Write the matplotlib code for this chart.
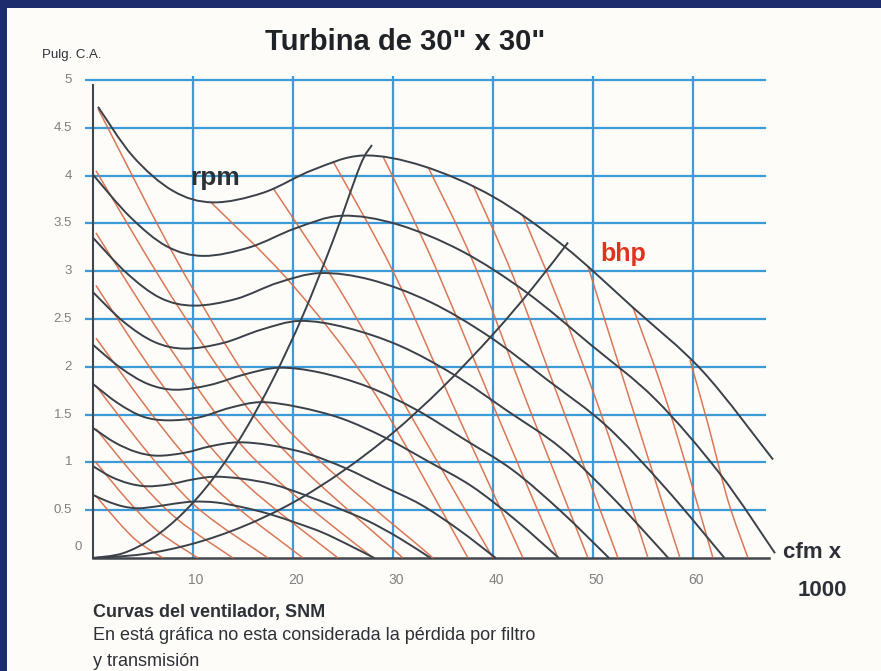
import matplotlib
matplotlib.use("Agg")
import matplotlib.pyplot as plt
from matplotlib.patches import Rectangle, PathPatch
from matplotlib.path import Path

# ---- datos (cfm x 1000, pulg. C.A.) ----
x_ticks = [10, 20, 30, 40, 50, 60]
y_ticks = [0.5, 1, 1.5, 2, 2.5, 3, 3.5, 4, 4.5, 5]
y_tick_labels = ["0.5", "1", "1.5", "2", "2.5", "3", "3.5", "4", "4.5", "5"]

# curvas rpm (negras)
rpm_1_x = [0.5, 4, 8, 12, 17, 22, 27, 33, 40, 47, 54, 61, 68]
rpm_1_y = [4.72, 4.2, 3.84, 3.72, 3.82, 4.06, 4.21, 4.1, 3.78, 3.27, 2.62, 1.95, 1.03]
rpm_2_x = [0, 3.69, 7.38, 11.06, 15.67, 20.28, 24.89, 30.43, 36.88, 43.33, 49.79, 56.24, 62.7, 68.2]
rpm_2_y = [4.01, 3.57, 3.26, 3.16, 3.25, 3.45, 3.58, 3.49, 3.21, 2.78, 2.23, 1.66, 0.88, 0.05]
rpm_3_x = [0, 3.37, 6.74, 10.1, 14.31, 18.52, 22.73, 27.79, 33.68, 39.57, 45.47, 51.36, 57.26, 63.15]
rpm_3_y = [3.35, 2.98, 2.72, 2.64, 2.71, 2.88, 2.98, 2.91, 2.68, 2.32, 1.86, 1.38, 0.73, 0]
rpm_4_x = [0, 3.07, 6.14, 9.2, 13.04, 16.87, 20.71, 25.31, 30.68, 36.05, 41.42, 46.79, 52.16, 57.53]
rpm_4_y = [2.78, 2.47, 2.26, 2.19, 2.25, 2.39, 2.48, 2.41, 2.22, 1.92, 1.54, 1.15, 0.61, 0]
rpm_5_x = [0, 2.75, 5.5, 8.26, 11.7, 15.14, 18.58, 22.7, 27.52, 32.34, 37.15, 41.97, 46.78, 51.6]
rpm_5_y = [2.23, 1.99, 1.82, 1.76, 1.81, 1.92, 1.99, 1.94, 1.79, 1.55, 1.24, 0.92, 0.49, 0]
rpm_6_x = [0, 2.48, 4.97, 7.45, 10.56, 13.66, 16.77, 20.49, 24.84, 29.19, 33.53, 37.88, 42.23, 46.58]
rpm_6_y = [1.82, 1.62, 1.48, 1.44, 1.47, 1.57, 1.63, 1.58, 1.46, 1.26, 1.01, 0.75, 0.4, 0]
rpm_7_x = [0, 2.15, 4.3, 6.44, 9.13, 11.81, 14.5, 17.72, 21.48, 25.24, 29.0, 32.76, 36.52, 40.28]
rpm_7_y = [1.36, 1.21, 1.11, 1.07, 1.1, 1.17, 1.21, 1.18, 1.09, 0.94, 0.75, 0.56, 0.3, 0]
rpm_8_x = [0, 1.8, 3.6, 5.4, 7.65, 9.9, 12.15, 14.85, 18.0, 21.15, 24.3, 27.45, 30.6, 33.75]
rpm_8_y = [0.96, 0.85, 0.78, 0.75, 0.77, 0.82, 0.85, 0.83, 0.77, 0.66, 0.53, 0.39, 0.21, 0]
rpm_9_x = [0, 1.5, 3.0, 4.5, 6.38, 8.25, 10.13, 12.38, 15.0, 17.63, 20.25, 22.88, 25.5, 28.13]
rpm_9_y = [0.66, 0.59, 0.54, 0.52, 0.54, 0.57, 0.59, 0.58, 0.53, 0.46, 0.37, 0.27, 0.14, 0]

# curvas del sistema (negras, desde el origen)
sys_a_x = [0, 3, 6, 9, 12, 15, 18, 21, 24, 26.7, 27.9]
sys_a_y = [0, 0.05, 0.21, 0.47, 0.83, 1.3, 1.87, 2.54, 3.32, 4.1, 4.32]
sys_b_x = [0, 5, 10, 15, 20, 25, 30, 35, 40, 44, 47.5]
sys_b_y = [0, 0.04, 0.15, 0.33, 0.58, 0.91, 1.31, 1.79, 2.34, 2.83, 3.3]

# curvas bhp (rojas)
bhp_1_x = [0.3, 2.5, 4.5, 7];        bhp_1_y = [0.65, 0.38, 0.17, 0]
bhp_2_x = [0.3, 3.5, 6.5, 10.5];     bhp_2_y = [1.0, 0.6, 0.28, 0]
bhp_3_x = [0.3, 4.5, 8.5, 14];       bhp_3_y = [1.35, 0.82, 0.4, 0]
bhp_4_x = [0.3, 5.5, 10.5, 17.5];    bhp_4_y = [1.8, 1.1, 0.52, 0]
bhp_5_x = [0.3, 6.5, 12.5, 21];      bhp_5_y = [2.3, 1.42, 0.7, 0]
bhp_6_x = [0.3, 7, 14.5, 24.5];      bhp_6_y = [2.85, 1.8, 0.85, 0]
bhp_7_x = [0.3, 8, 16, 28];          bhp_7_y = [3.4, 2.15, 1.05, 0]
bhp_8_x = [0.3, 9, 18, 31];          bhp_8_y = [4.05, 2.55, 1.25, 0]
bhp_9_x = [0.5, 9.8, 19, 34];        bhp_9_y = [4.7, 2.85, 1.4, 0]
bhp_10_x = [11.8, 20, 28, 37.5];     bhp_10_y = [3.72, 2.85, 1.75, 0]
bhp_11_x = [18, 25, 32, 40];         bhp_11_y = [3.87, 2.75, 1.45, 0]
bhp_12_x = [24, 30, 36, 43];         bhp_12_y = [4.15, 3.0, 1.6, 0]
bhp_13_x = [29, 34, 40, 46.5];       bhp_13_y = [4.2, 3.1, 1.6, 0]
bhp_14_x = [33.5, 38, 43.5, 49.5];   bhp_14_y = [4.09, 3.1, 1.6, 0]
bhp_15_x = [38, 42, 47, 52.5];       bhp_15_y = [3.9, 2.95, 1.55, 0]
bhp_16_x = [43, 46.5, 51, 55.5];     bhp_16_y = [3.58, 2.7, 1.45, 0]
bhp_17_x = [49.5, 52.5, 55.5, 58.7]; bhp_17_y = [3.05, 2.05, 1.05, 0]
bhp_18_x = [54, 57, 59.5, 62];       bhp_18_y = [2.62, 1.75, 0.9, 0]
bhp_19_x = [59.7, 61.5, 63.5, 65.5]; bhp_19_y = [2.07, 1.4, 0.6, 0]

rpm_curves = [(rpm_1_x, rpm_1_y), (rpm_2_x, rpm_2_y), (rpm_3_x, rpm_3_y),
              (rpm_4_x, rpm_4_y), (rpm_5_x, rpm_5_y), (rpm_6_x, rpm_6_y),
              (rpm_7_x, rpm_7_y), (rpm_8_x, rpm_8_y), (rpm_9_x, rpm_9_y),
              (sys_a_x, sys_a_y), (sys_b_x, sys_b_y)]
bhp_curves = [(bhp_1_x, bhp_1_y), (bhp_2_x, bhp_2_y), (bhp_3_x, bhp_3_y),
              (bhp_4_x, bhp_4_y), (bhp_5_x, bhp_5_y), (bhp_6_x, bhp_6_y),
              (bhp_7_x, bhp_7_y), (bhp_8_x, bhp_8_y), (bhp_9_x, bhp_9_y),
              (bhp_10_x, bhp_10_y), (bhp_11_x, bhp_11_y), (bhp_12_x, bhp_12_y),
              (bhp_13_x, bhp_13_y), (bhp_14_x, bhp_14_y), (bhp_15_x, bhp_15_y),
              (bhp_16_x, bhp_16_y), (bhp_17_x, bhp_17_y), (bhp_18_x, bhp_18_y),
              (bhp_19_x, bhp_19_y)]


def smooth_path(xs, ys):
    # curva suave que pasa por los puntos leidos (segmentos Bezier del propio matplotlib)
    pts = list(zip(xs, ys))
    verts = [pts[0]]
    codes = [Path.MOVETO]
    n = len(pts)
    for i in range(n - 1):
        p0 = pts[i - 1] if i > 0 else pts[i]
        p1 = pts[i]
        p2 = pts[i + 1]
        p3 = pts[i + 2] if i + 2 < n else pts[i + 1]
        c1 = (p1[0] + (p2[0] - p0[0]) / 6, p1[1] + (p2[1] - p0[1]) / 6)
        c2 = (p2[0] - (p3[0] - p1[0]) / 6, p2[1] - (p3[1] - p1[1]) / 6)
        verts += [c1, c2, p2]
        codes += [Path.CURVE4] * 3
    return Path(verts, codes)


plt.rcParams["font.family"] = ["Liberation Sans", "DejaVu Sans"]

W, H = 881, 671
navy = "#1c2d6e"
fig = plt.figure(figsize=(W / 100, H / 100), dpi=100)
fig.patch.set_facecolor("#fdfcf9")
fig.add_artist(Rectangle((0, 1 - 8 / H), 1, 8 / H, transform=fig.transFigure,
                         facecolor=navy, edgecolor="none", zorder=10))
fig.add_artist(Rectangle((0, 0), 7 / W, 1, transform=fig.transFigure,
                         facecolor=navy, edgecolor="none", zorder=10))

# ejes: x=0 en px 93, 10 px por unidad; y=0 en px 558, 95.6 px por unidad
x0, x1 = -1.5, 70
y0, y1 = -0.2, 5.2
left_px = 93 + x0 * 10
right_px = 93 + x1 * 10
bot_px = 558 - y0 * 95.6
top_px = 558 - y1 * 95.6
ax = fig.add_axes([left_px / W, 1 - bot_px / H, (right_px - left_px) / W, (bot_px - top_px) / H])
ax.set_xlim(x0, x1)
ax.set_ylim(y0, y1)
ax.axis("off")

grid_c = "#3d9ad9"
for yv in y_ticks:
    ax.plot([-0.8, 67.3], [yv, yv], color=grid_c, lw=1.6, zorder=1, solid_capstyle="butt")
for xv in x_ticks:
    ax.plot([xv, xv], [0, 5.04], color=grid_c, lw=1.6, zorder=1, solid_capstyle="butt")
ax.plot([0, 0], [0, 4.95], color="#41454c", lw=1.5, zorder=2)
ax.plot([0, 67.6], [0, 0], color="#41454c", lw=1.8, zorder=2)

for cx, cy in bhp_curves:
    ax.add_patch(PathPatch(smooth_path(cx, cy), facecolor="none", edgecolor="#d66a45",
                           lw=1.1, alpha=0.9, zorder=3))
for cx, cy in rpm_curves:
    ax.add_patch(PathPatch(smooth_path(cx, cy), facecolor="none", edgecolor="#3b4149",
                           lw=1.4, zorder=4))

# etiquetas de los ejes
for yv, lab in zip(y_ticks, y_tick_labels):
    ax.text(-2.1, yv, lab, ha="right", va="center", fontsize=9.5, color="#808080")
ax.text(-1.5, 0.12, "0", ha="center", va="center", fontsize=9.5, color="#808080")
for xv in x_ticks:
    ax.text(xv + 0.3, -0.23, str(xv), ha="center", va="center", fontsize=10, color="#808080")

ax.text(12.2, 3.97, "rpm", fontsize=19, fontweight="bold", color="#2d3137", ha="center", va="center")
ax.text(53.0, 3.18, "bhp", fontsize=18, fontweight="bold", color="#e0321f", ha="center", va="center")

fig.text(812 / W, 1 - 553 / H, "cfm x", fontsize=16, fontweight="bold", color="#2d3137", ha="center", va="center")
fig.text(822 / W, 1 - 590 / H, "1000", fontsize=16, fontweight="bold", color="#2d3137", ha="center", va="center")

fig.text(405 / W, 1 - 42 / H, "Turbina de 30\" x 30\"", fontsize=21, fontweight="bold",
         color="#1f2226", ha="center", va="center")
fig.text(42 / W, 1 - 55 / H, "Pulg. C.A.", fontsize=9.5, color="#2d3137", ha="left", va="center")

fig.text(93 / W, 1 - 613 / H, "Curvas del ventilador, SNM", fontsize=13, fontweight="bold",
         color="#2d3137", ha="left", va="center")
fig.text(93 / W, 1 - 636 / H, "En está gráfica no esta considerada la pérdida por filtro", fontsize=13,
         color="#2d3137", ha="left", va="center")
fig.text(93 / W, 1 - 662 / H, "y transmisión", fontsize=13,
         color="#2d3137", ha="left", va="center")

fig.savefig("out.png", dpi=100, facecolor=fig.get_facecolor())
